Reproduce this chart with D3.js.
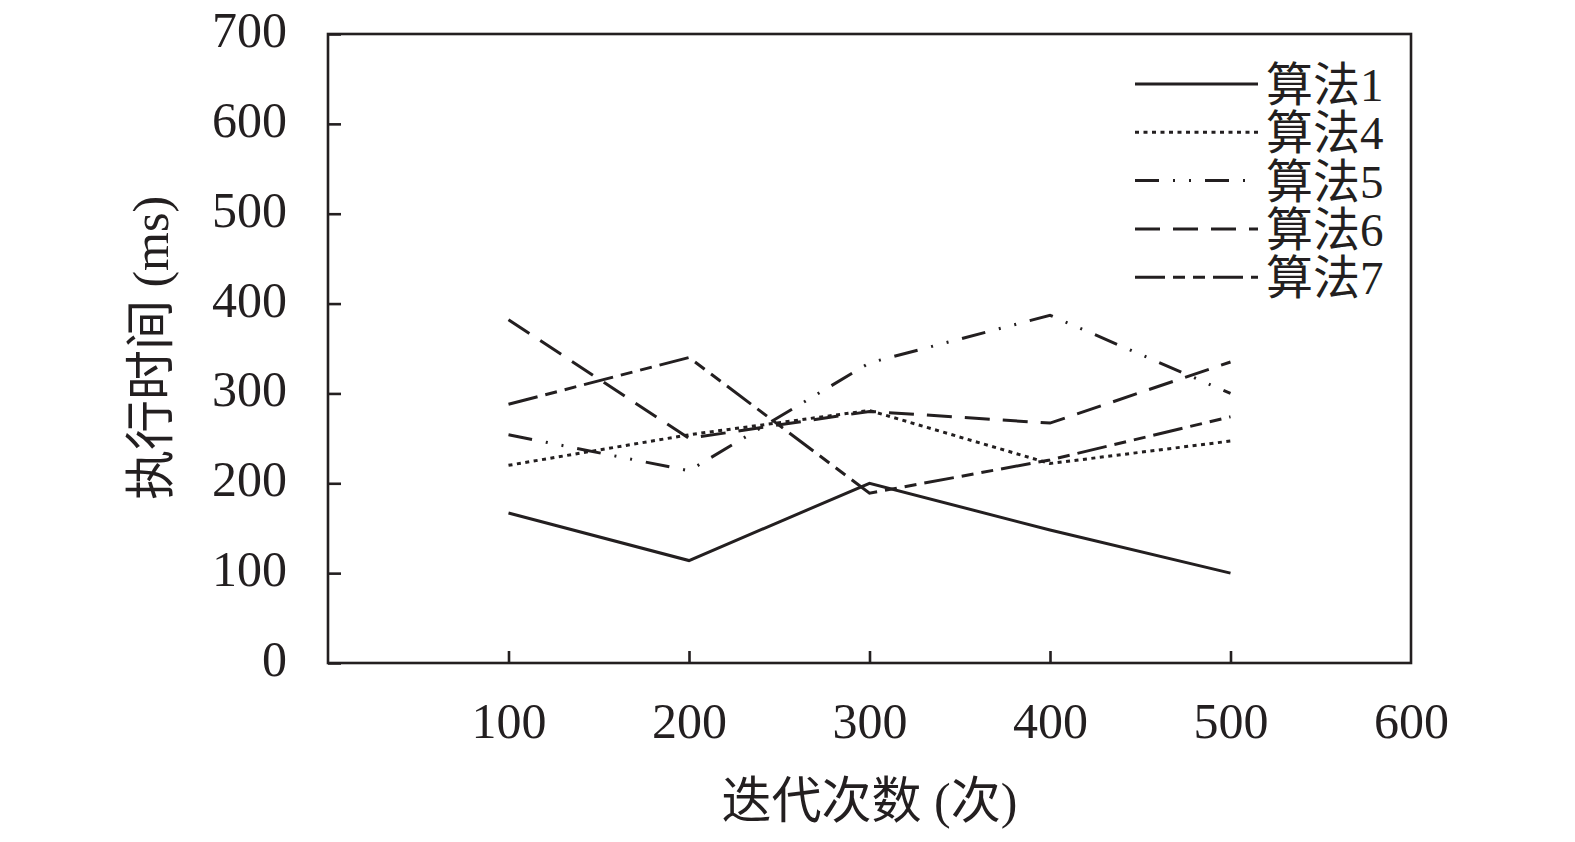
<!DOCTYPE html>
<html>
<head>
<meta charset="utf-8">
<script src="https://cdn.jsdelivr.net/npm/d3@7"></script>
<style>
  html, body { margin: 0; padding: 0; background: #fff; }
  svg { display: block; }
  text { font-family: "Liberation Serif", "Noto Sans CJK SC", serif; fill: #231f20; }
</style>
</head>
<body>
<svg id="chart" width="1575" height="842"></svg>
<script>
// ---- data ----
const iterations = [100, 200, 300, 400, 500];
const seriesNames = ["算法1", "算法4", "算法5", "算法6", "算法7"];
const algo1 = [167, 114, 200, 148, 100];
const algo4 = [220, 254, 281, 222, 247];
const algo5 = [254, 214, 334, 387, 300];
const algo6 = [382, 250, 280, 267, 335];
const algo7 = [288, 340, 189, 226, 274];
const xTicks = [100, 200, 300, 400, 500, 600];
const yTicks = [0, 100, 200, 300, 400, 500, 600, 700];
const xTitle = "迭代次数 (次)";
const yTitle = "执行时间 (ms)";

const seriesValues = [algo1, algo4, algo5, algo6, algo7];
const dashes = ["none", "4,4.5", "24,14,2,14,2,14", "25,13", "30,8,12,8,12,8"];

const svg = d3.select("#chart");
const ink = "#231f20";
const L = 328, R = 1411, T = 34, B = 663;

const x = d3.scaleLinear().domain([0, 600]).range([L, R]);
const y = d3.scaleLinear().domain([0, 700]).range([B, T]);

// frame
svg.append("rect")
  .attr("x", L).attr("y", T).attr("width", R - L).attr("height", B - T)
  .attr("fill", "none").attr("stroke", ink).attr("stroke-width", 2.6);

// y axis
const yAxis = svg.append("g").attr("transform", `translate(${L},0)`)
  .call(d3.axisLeft(y).tickValues(yTicks).tickSizeInner(-13).tickSizeOuter(0).tickPadding(41).tickFormat(d3.format("d")));
yAxis.select(".domain").remove();
yAxis.selectAll("line").attr("stroke", ink).attr("stroke-width", 2.6);
yAxis.selectAll("text").attr("font-size", 50).attr("fill", ink)
  .attr("font-family", "Liberation Serif, serif").attr("dy", "0.25em");

// x axis
const xAxis = svg.append("g").attr("transform", `translate(0,${B})`)
  .call(d3.axisBottom(x).tickValues(xTicks).tickSizeInner(-12).tickSizeOuter(0).tickPadding(39).tickFormat(d3.format("d")));
xAxis.select(".domain").remove();
xAxis.selectAll("line").attr("stroke", ink).attr("stroke-width", 2.6);
xAxis.selectAll(".tick").filter(d => d === 600).select("line").remove();
xAxis.selectAll("text").attr("font-size", 50).attr("fill", ink)
  .attr("font-family", "Liberation Serif, serif");

// titles
svg.append("text")
  .attr("x", (L + R) / 2).attr("y", 818)
  .attr("text-anchor", "middle").attr("font-size", 50)
  .text(xTitle);
svg.append("text")
  .attr("transform", `translate(168,348) rotate(-90)`)
  .attr("text-anchor", "middle").attr("font-size", 50)
  .text(yTitle);

// lines
const line = d3.line().x((d, i) => x(iterations[i])).y(d => y(d));
svg.append("g").selectAll("path")
  .data(seriesValues)
  .join("path")
  .attr("d", d => line(d))
  .attr("fill", "none")
  .attr("stroke", ink)
  .attr("stroke-width", 3)
  .attr("stroke-linejoin", "miter")
  .attr("stroke-dasharray", (d, i) => dashes[i]);

// legend
const legend = svg.append("g");
const rows = legend.selectAll("g").data(seriesNames).join("g")
  .attr("transform", (d, i) => `translate(0,${84 + i * 48.3})`);
rows.append("line")
  .attr("x1", 1135).attr("x2", 1258).attr("y1", 0).attr("y2", 0)
  .attr("stroke", ink).attr("stroke-width", 3)
  .attr("stroke-dasharray", (d, i) => dashes[i]);
rows.append("text")
  .attr("x", 1266).attr("y", 0).attr("dy", "0.36em")
  .attr("font-size", 47)
  .text(d => d);
</script>
</body>
</html>
